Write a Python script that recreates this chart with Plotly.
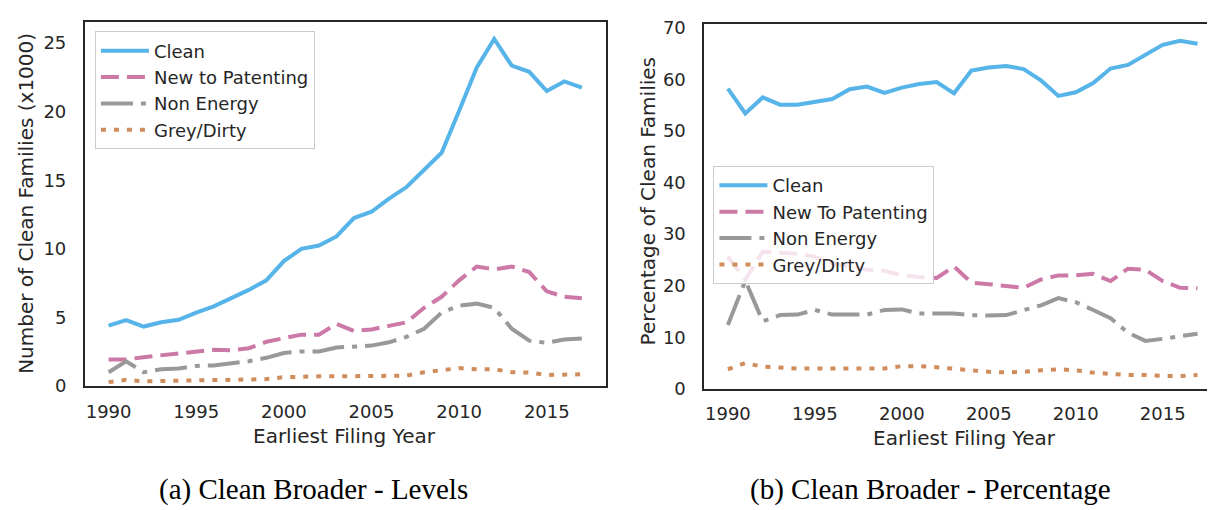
import plotly.graph_objects as go

years = list(range(1990, 2018))

# panel (a): levels, thousands of families
clean_lvl = [4.4, 4.8, 4.33, 4.64, 4.82, 5.35, 5.8, 6.4, 7.0, 7.7,
             9.1, 10.0, 10.24, 10.9, 12.24, 12.7, 13.65, 14.5, 15.8, 17.0,
             20.06, 23.2, 25.3, 23.35, 22.9, 21.5, 22.2, 21.75]
new_lvl = [1.93, 1.93, 2.1, 2.24, 2.33, 2.45, 2.64, 2.6, 2.75, 3.22,
           3.46, 3.74, 3.74, 4.52, 4.0, 4.12, 4.38, 4.64, 5.7, 6.5,
           7.7, 8.7, 8.5, 8.7, 8.3, 6.9, 6.5, 6.4]
nonen_lvl = [1.0, 1.8, 1.0, 1.22, 1.27, 1.46, 1.5, 1.62, 1.8, 2.05,
             2.4, 2.52, 2.52, 2.8, 2.87, 2.94, 3.18, 3.58, 4.17, 5.35,
             5.86, 6.0, 5.7, 4.17, 3.3, 3.15, 3.39, 3.46]
grey_lvl = [0.28, 0.45, 0.33, 0.35, 0.36, 0.38, 0.4, 0.42, 0.45, 0.5,
            0.64, 0.7, 0.7, 0.7, 0.7, 0.7, 0.7, 0.75, 1.0, 1.18,
            1.3, 1.22, 1.22, 1.0, 0.98, 0.8, 0.8, 0.85]

# panel (b): percentage of clean families
clean_pct = [58.2, 53.4, 56.5, 55.1, 55.1, 55.6, 56.2, 58.1, 58.6, 57.4,
             58.4, 59.1, 59.5, 57.3, 61.7, 62.3, 62.6, 62.0, 59.8, 56.8,
             57.5, 59.3, 62.1, 62.8, 64.8, 66.7, 67.5, 66.9]
new_pct = [25.6, 21.2, 26.6, 26.4, 26.2, 25.6, 24.4, 23.7, 23.1, 22.9,
           22.0, 21.7, 21.5, 23.7, 20.6, 20.3, 20.0, 19.6, 21.2, 22.0,
           22.0, 22.3, 20.9, 23.3, 23.1, 20.9, 19.6, 19.5]
nonen_pct = [12.4, 21.0, 13.1, 14.3, 14.4, 15.3, 14.4, 14.4, 14.4, 15.3,
             15.4, 14.6, 14.6, 14.6, 14.3, 14.2, 14.3, 15.3, 16.2, 17.6,
             16.8, 15.3, 13.7, 10.9, 9.3, 9.7, 10.2, 10.7]
grey_pct = [3.8, 5.0, 4.3, 4.1, 3.95, 3.95, 3.95, 3.95, 3.95, 3.95,
            4.4, 4.4, 4.2, 3.9, 3.6, 3.3, 3.2, 3.3, 3.6, 3.8,
            3.6, 3.15, 2.9, 2.7, 2.7, 2.5, 2.5, 2.7]

names_a = ["Clean", "New to Patenting", "Non Energy", "Grey/Dirty"]
names_b = ["Clean", "New To Patenting", "Non Energy", "Grey/Dirty"]
year_ticks = [1990, 1995, 2000, 2005, 2010, 2015]

colors = ["#56b4e9", "#cc79a7", "#999999", "#d08d5b"]
dashes = ["solid", "18px,8px", "32px,8px,5px,8px", "5px,8px"]

INK = "#262626"
W, H = 1215, 510

fig = go.Figure()

for i, (name, ys) in enumerate(zip(names_a, [clean_lvl, new_lvl, nonen_lvl, grey_lvl])):
    fig.add_trace(go.Scatter(
        x=years, y=ys, mode="lines", name=name,
        line=dict(color=colors[i], width=4, dash=dashes[i]),
        xaxis="x", yaxis="y", legend="legend",
    ))

for i, (name, ys) in enumerate(zip(names_b, [clean_pct, new_pct, nonen_pct, grey_pct])):
    fig.add_trace(go.Scatter(
        x=years, y=ys, mode="lines", name=name,
        line=dict(color=colors[i], width=4, dash=dashes[i]),
        xaxis="x2", yaxis="y2", legend="legend2",
    ))

axis_common = dict(
    showline=True, mirror=True, linecolor=INK, linewidth=2,
    showgrid=False, zeroline=False,
    ticks="outside", tickcolor="rgba(0,0,0,0)",
    tickfont=dict(family="DejaVu Sans", size=18, color=INK),
)
x_common = dict(ticklen=8, **axis_common)
y_common = dict(ticklen=13, **axis_common)

legend_common = dict(
    xref="paper", yref="paper", xanchor="left", yanchor="top",
    bgcolor="rgba(255,255,255,0.8)", bordercolor="#cccccc", borderwidth=1,
    font=dict(family="DejaVu Sans", size=18, color=INK),
    itemwidth=48,
)

fig.update_layout(
    width=W, height=H,
    margin=dict(l=0, r=0, t=0, b=0),
    paper_bgcolor="white", plot_bgcolor="white",
    xaxis=dict(domain=[77 / W, 598 / W], range=[1988.65, 2018.35],
               tickvals=year_ticks, anchor="y", **x_common),
    yaxis=dict(domain=[1 - 384 / H, 1 - 8 / H], range=[0, 26.55],
               tickvals=[0, 5, 10, 15, 20, 25], anchor="x", **y_common),
    xaxis2=dict(domain=[697 / W, 1214 / W], range=[1988.65, 2018.35],
                tickvals=year_ticks, anchor="y2", **x_common),
    yaxis2=dict(domain=[1 - 387 / H, 1 - 10 / H], range=[0, 70.8],
                tickvals=[0, 10, 20, 30, 40, 50, 60, 70], anchor="x2", **y_common),
    legend=dict(x=87 / W, y=1 - 18 / H, **legend_common),
    legend2=dict(x=706 / W, y=1 - 157 / H, **legend_common),
)

title_font = dict(family="DejaVu Sans", size=20, color=INK)
caption_font = dict(family="Liberation Serif", size=29, color="black")

texts = [
    ("Earliest Filing Year", 337, 436, 0, title_font),
    ("Earliest Filing Year", 957, 438, 0, title_font),
    ("Number of Clean Families (x1000)", 18, 195, -90, title_font),
    ("Percentage of Clean Families", 640, 193, -90, title_font),
    ("(a) Clean Broader - Levels", 306, 491, 0, caption_font),
    ("(b) Clean Broader - Percentage", 923, 491, 0, caption_font),
]
for text, px_x, px_y, angle, font in texts:
    fig.add_annotation(
        text=text, x=px_x / W, y=1 - px_y / H, xref="paper", yref="paper",
        xanchor="center", yanchor="middle", showarrow=False,
        textangle=angle, font=font,
    )

fig.write_html("out.html")
